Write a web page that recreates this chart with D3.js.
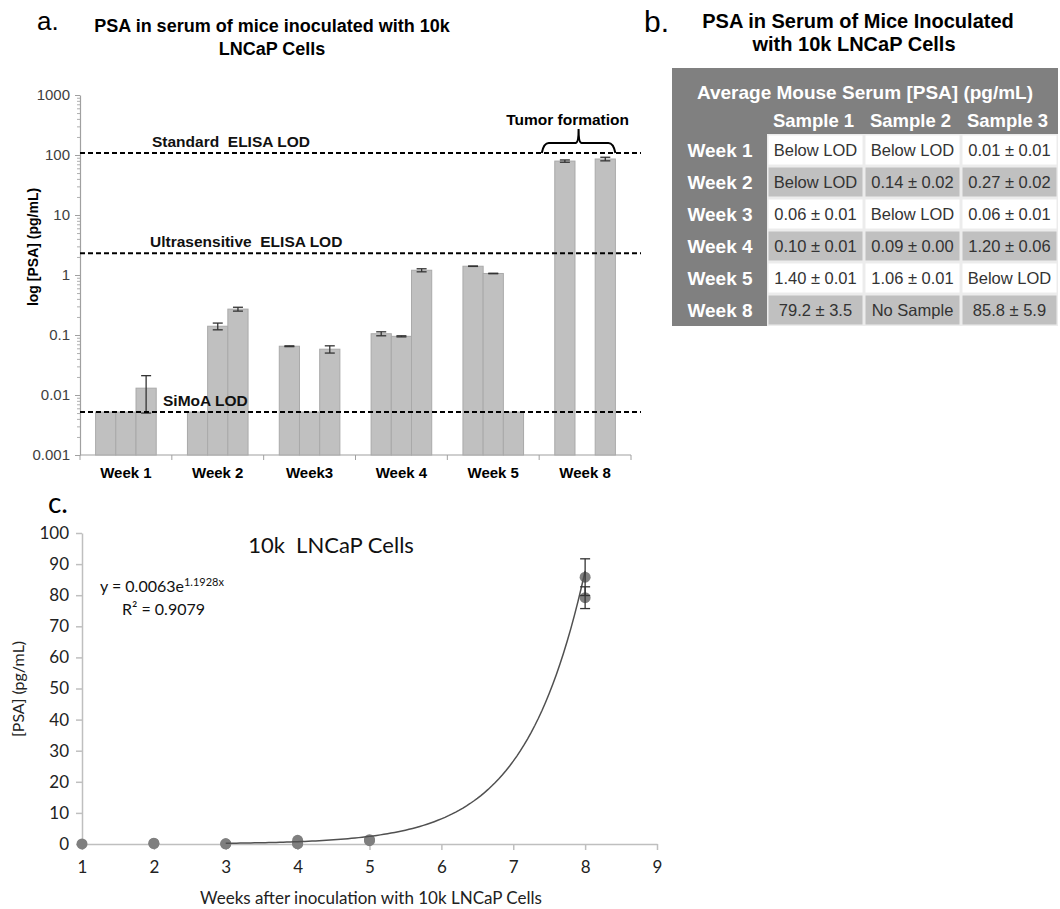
<!DOCTYPE html>
<html>
<head>
<meta charset="utf-8">
<script src="https://cdn.jsdelivr.net/npm/d3@7"></script>
<style>
  body { margin: 0; background: #fff; }
  svg { display: block; }
</style>
</head>
<body>
<svg id="chart"></svg>
<script>
// ---- panel a: bar heights as plotted (below-LOD samples sit at the SiMoA LOD) ----
const weeks = ['Week 1', 'Week 2', 'Week3', 'Week 4', 'Week 5', 'Week 8'];
const samples = ['Sample 1', 'Sample 2', 'Sample 3'];
const sample1 = [0.0052, 0.0052, 0.065, 0.105, 1.40, 79.2];
const sample2 = [0.0052, 0.14, 0.0052, 0.095, 1.06, null];
const sample3 = [0.013, 0.27, 0.058, 1.20, 0.0052, 85.8];
const sample1Err = [0, 0, 0.001, 0.008, 0.01, 3.5];
const sample2Err = [0, 0.018, 0, 0.002, 0.01, 0];
const sample3Err = [0.008, 0.02, 0.008, 0.07, 0, 5.9];
const lodNames = ['Standard  ELISA LOD', 'Ultrasensitive  ELISA LOD', 'SiMoA LOD'];
const lodValues = [108, 2.3, 0.0052];
const logTicks = [0.001, 0.01, 0.1, 1, 10, 100, 1000];

// ---- panel b: table ----
const tableWeeks = ['Week 1', 'Week 2', 'Week 3', 'Week 4', 'Week 5', 'Week 8'];
const tableS1 = ['Below LOD', 'Below LOD', '0.06 \u00b1 0.01', '0.10 \u00b1 0.01', '1.40 \u00b1 0.01', '79.2 \u00b1 3.5'];
const tableS2 = ['Below LOD', '0.14 \u00b1 0.02', 'Below LOD', '0.09 \u00b1 0.00', '1.06 \u00b1 0.01', 'No Sample'];
const tableS3 = ['0.01 \u00b1 0.01', '0.27 \u00b1 0.02', '0.06 \u00b1 0.01', '1.20 \u00b1 0.06', 'Below LOD', '85.8 \u00b1 5.9'];

// ---- panel c: scatter + exponential trendline ----
const scatterWeeks = [1, 2, 2, 3, 3, 4, 4, 4, 5, 5, 8, 8];
const scatterPSA = [0.01, 0.14, 0.27, 0.06, 0.06, 0.10, 0.09, 1.20, 1.40, 1.06, 79.2, 85.8];
const scatterErr = [0.01, 0.02, 0.02, 0.01, 0.01, 0.01, 0, 0.06, 0.01, 0.01, 3.5, 5.9];
const fitA = 0.0063, fitB = 1.1928;
const fitFrom = 3, fitTo = 8;
const xTicksC = [1, 2, 3, 4, 5, 6, 7, 8, 9];

const W = 1060, H = 909;
const svg = d3.select('#chart').attr('width', W).attr('height', H)
    .attr('font-family', '"Liberation Sans", Arial, sans-serif');

// =================== panel a ===================
const a = svg.append('g');
const yA = d3.scaleLog().domain([0.001, 1000]).range([455, 95]);
const xA = d3.scaleBand().domain(weeks).range([80, 631]).paddingInner(0.34).paddingOuter(0.17);
const xS = d3.scaleBand().domain(samples).range([0, xA.bandwidth()]);

a.append('text').attr('x', 37).attr('y', 30).attr('font-size', 26).text('a.');
a.append('text').attr('x', 272).attr('y', 32).attr('text-anchor', 'middle')
    .attr('font-size', 18).attr('font-weight', 'bold').text('PSA in serum of mice inoculated with 10k');
a.append('text').attr('x', 272).attr('y', 55).attr('text-anchor', 'middle')
    .attr('font-size', 18).attr('font-weight', 'bold').text('LNCaP Cells');

// y axis with minor ticks
const minor = yA.ticks().filter(t => !logTicks.some(m => Math.abs(m - t) / m < 1e-6));
a.append('g').attr('transform', 'translate(80,0)')
    .call(d3.axisLeft(yA).tickValues(minor).tickSize(3).tickFormat(''))
    .call(g => g.select('.domain').remove())
    .selectAll('line').attr('stroke', '#b0b0b0');
a.append('g').attr('transform', 'translate(80,0)')
    .call(d3.axisLeft(yA).tickValues(logTicks).tickSize(5).tickSizeOuter(0).tickFormat(d => String(d)))
    .call(g => {
        g.select('.domain').attr('stroke', '#a0a0a0').attr('stroke-width', 1.2);
        g.selectAll('line').attr('stroke', '#a0a0a0');
        g.selectAll('text').attr('font-size', 15).attr('fill', '#404040')
            .attr('font-family', '"Liberation Sans", Arial, sans-serif').attr('dx', -2);
    });

a.append('text').attr('transform', 'translate(38,247) rotate(-90)')
    .attr('text-anchor', 'middle').attr('font-size', 14).attr('font-weight', 'bold')
    .text('log [PSA] (pg/mL)');

// x axis
a.append('line').attr('x1', 80).attr('x2', 631).attr('y1', 455).attr('y2', 455)
    .attr('stroke', '#a0a0a0').attr('stroke-width', 1.2);
const bounds = weeks.map(w => xA(w) - xA.step() * xA.paddingInner() / 2)
    .concat([xA(weeks[weeks.length - 1]) + xA.bandwidth() + xA.step() * xA.paddingInner() / 2]);
a.selectAll('.xt').data(bounds).join('line')
    .attr('x1', d => d).attr('x2', d => d).attr('y1', 455).attr('y2', 460)
    .attr('stroke', '#a0a0a0');
a.selectAll('.xl').data(weeks).join('text')
    .attr('x', d => xA(d) + xA.bandwidth() / 2).attr('y', 478)
    .attr('text-anchor', 'middle').attr('font-size', 15).attr('font-weight', 'bold')
    .text(d => d);

// bars
const series = [sample1, sample2, sample3];
const errs = [sample1Err, sample2Err, sample3Err];
const barData = [];
weeks.forEach((w, i) => samples.forEach((s, j) => {
    if (series[j][i] != null) barData.push({ week: w, sample: s, v: series[j][i], e: errs[j][i] });
}));
a.selectAll('.bar').data(barData).join('rect')
    .attr('x', d => xA(d.week) + xS(d.sample))
    .attr('width', xS.bandwidth())
    .attr('y', d => yA(d.v))
    .attr('height', d => yA(0.001) - yA(d.v))
    .attr('fill', '#c0c0c0').attr('stroke', '#a9a9a9').attr('stroke-width', 1);

// error bars
const eb = a.selectAll('.eb').data(barData.filter(d => d.e > 0)).join('g')
    .attr('transform', d => `translate(${xA(d.week) + xS(d.sample) + xS.bandwidth() / 2},0)`)
    .attr('stroke', '#333').attr('stroke-width', 1.3);
eb.append('line').attr('y1', d => yA(d.v - d.e)).attr('y2', d => yA(d.v + d.e));
eb.append('line').attr('x1', -5).attr('x2', 5).attr('y1', d => yA(d.v + d.e)).attr('y2', d => yA(d.v + d.e));
eb.append('line').attr('x1', -5).attr('x2', 5).attr('y1', d => yA(d.v - d.e)).attr('y2', d => yA(d.v - d.e));

// LOD lines
const lodX = [152, 150, 163];
lodValues.forEach((v, i) => {
    a.append('line').attr('x1', 80).attr('x2', 641).attr('y1', yA(v)).attr('y2', yA(v))
        .attr('stroke', '#000').attr('stroke-width', 2).attr('stroke-dasharray', '5,3');
    a.append('text').attr('x', lodX[i]).attr('y', yA(v) - 6)
        .attr('font-size', 15.5).attr('font-weight', 'bold').attr('fill', '#111')
        .attr('xml:space', 'preserve').text(lodNames[i]);
});

// tumor formation brace
const bx0 = xA('Week 8') - 13, bx1 = xA('Week 8') + xA.bandwidth();
const bm = (bx0 + bx1) / 2, by = yA(lodValues[0]);
a.append('path')
    .attr('d', `M${bx0},${by} Q${bx0 + 2},${by - 10} ${bx0 + 7},${by - 10} L${bm - 3},${by - 10} Q${bm},${by - 10} ${bm},${by - 24} Q${bm},${by - 10} ${bm + 3},${by - 10} L${bx1 - 7},${by - 10} Q${bx1 - 2},${by - 10} ${bx1},${by}`)
    .attr('fill', 'none').attr('stroke', '#000').attr('stroke-width', 2);
a.append('text').attr('x', bm - 11).attr('y', 125).attr('text-anchor', 'middle')
    .attr('font-size', 15.5).attr('font-weight', 'bold').text('Tumor formation');

// =================== panel b ===================
const b = svg.append('g');
b.append('text').attr('x', 644).attr('y', 32).attr('font-size', 30).text('b.');
b.append('text').attr('x', 858).attr('y', 28).attr('text-anchor', 'middle')
    .attr('font-size', 20).attr('font-weight', 'bold').text('PSA in Serum of Mice Inoculated');
b.append('text').attr('x', 854).attr('y', 51).attr('text-anchor', 'middle')
    .attr('font-size', 20).attr('font-weight', 'bold').text('with 10k LNCaP Cells');

const tx0 = 672, tx1 = 1058, ty0 = 68, rowTop = 134, rowH = 32;
const colX = d3.scaleBand().domain(samples).range([767, tx1]);
const rowY = d3.scaleBand().domain(tableWeeks).range([rowTop, rowTop + rowH * tableWeeks.length]);
b.append('rect').attr('x', tx0).attr('y', ty0).attr('width', tx1 - tx0)
    .attr('height', rowY.range()[1] - ty0).attr('fill', '#808080');
b.append('text').attr('x', 865).attr('y', 99).attr('text-anchor', 'middle')
    .attr('font-size', 19).attr('font-weight', 'bold').attr('fill', '#fff')
    .text('Average Mouse Serum [PSA] (pg/mL)');
b.selectAll('.colh').data(samples).join('text')
    .attr('x', d => colX(d) + colX.bandwidth() / 2 - 2).attr('y', 127)
    .attr('text-anchor', 'middle').attr('font-size', 18.5).attr('font-weight', 'bold')
    .attr('fill', '#fff').text(d => d);

const cols = [tableS1, tableS2, tableS3];
tableWeeks.forEach((w, i) => {
    const fill = i % 2 === 0 ? '#ffffff' : '#c0c0c0';
    b.append('rect').attr('x', 767).attr('y', rowY(w)).attr('width', tx1 - 767)
        .attr('height', rowH).attr('fill', '#ececec');
    samples.forEach((s, j) => {
        b.append('rect').attr('x', colX(s) + 1.5).attr('y', rowY(w) + 1.5)
            .attr('width', colX.bandwidth() - 3).attr('height', rowH - 3).attr('fill', fill);
        b.append('text').attr('x', colX(s) + colX.bandwidth() / 2).attr('y', rowY(w) + rowH / 2 + 6)
            .attr('text-anchor', 'middle').attr('font-size', 16.5).attr('fill', '#333')
            .text(cols[j][i]);
    });
    b.append('text').attr('x', 720).attr('y', rowY(w) + rowH / 2 + 7)
        .attr('text-anchor', 'middle').attr('font-size', 19).attr('font-weight', 'bold')
        .attr('fill', '#fff').text(w);
});

// =================== panel c ===================
const c = svg.append('g').attr('font-family', 'Lato, "Open Sans", sans-serif');
const xC = d3.scaleLinear().domain([1, 9]).range([82, 657]);
const yC = d3.scaleLinear().domain([0, 100]).range([844, 533]);

c.append('text').attr('x', 48).attr('y', 513).attr('font-size', 28).text('c.');

c.append('g').attr('transform', 'translate(82,0)')
    .call(d3.axisLeft(yC).ticks(10).tickSize(6).tickSizeOuter(0))
    .call(g => {
        g.select('.domain').attr('stroke', '#bfbfbf').attr('stroke-width', 1.5);
        g.selectAll('line').attr('stroke', '#bfbfbf').attr('stroke-width', 1.5);
        g.selectAll('text').attr('font-size', 17).attr('fill', '#222')
            .attr('font-family', 'Lato, "Open Sans", sans-serif').attr('dx', -4);
    });
c.append('g').attr('transform', 'translate(0,844)')
    .call(d3.axisBottom(xC).tickValues(xTicksC).tickSize(6).tickSizeOuter(0).tickFormat(d3.format('d')))
    .call(g => {
        g.select('.domain').attr('stroke', '#bfbfbf').attr('stroke-width', 1.5);
        g.selectAll('line').attr('stroke', '#bfbfbf').attr('stroke-width', 1.5);
        g.selectAll('text').attr('font-size', 17).attr('fill', '#222')
            .attr('font-family', 'Lato, "Open Sans", sans-serif').attr('dy', '1.2em');
    });

c.append('text').attr('transform', 'translate(24,689) rotate(-90)')
    .attr('text-anchor', 'middle').attr('font-size', 16).attr('fill', '#222').text('[PSA] (pg/mL)');
c.append('text').attr('x', 371).attr('y', 904).attr('text-anchor', 'middle')
    .attr('font-size', 17).attr('fill', '#222').text('Weeks after inoculation with 10k LNCaP Cells');
c.append('text').attr('x', 331).attr('y', 553).attr('text-anchor', 'middle')
    .attr('font-size', 22).attr('fill', '#111').attr('xml:space', 'preserve').text('10k  LNCaP Cells');

const eq = c.append('text').attr('x', 100).attr('y', 592).attr('font-size', 16).attr('fill', '#111');
eq.append('tspan').text(`y = ${fitA}e`);
eq.append('tspan').attr('font-size', 11).attr('dy', -6).text(`${fitB}x`);
c.append('text').attr('x', 122).attr('y', 615).attr('font-size', 16).attr('fill', '#111')
    .text('R\u00b2 = 0.9079');

const pts = scatterWeeks.map((w, i) => ({ x: w, y: scatterPSA[i], e: scatterErr[i] }));
c.selectAll('.pt').data(pts).join('circle')
    .attr('cx', d => xC(d.x)).attr('cy', d => yC(d.y)).attr('r', 5.5)
    .attr('fill', '#7f7f7f');

const fitLine = d3.line().x(d => xC(d)).y(d => yC(fitA * Math.exp(fitB * d)));
c.append('path').datum(d3.range(fitFrom, fitTo + 0.001, 0.05))
    .attr('d', fitLine).attr('fill', 'none').attr('stroke', '#505050').attr('stroke-width', 1.5);

const ebc = c.selectAll('.ebc').data(pts.filter(d => d.e > 1)).join('g')
    .attr('transform', d => `translate(${xC(d.x)},0)`)
    .attr('stroke', '#333').attr('stroke-width', 1.3);
ebc.append('line').attr('y1', d => yC(d.y - d.e)).attr('y2', d => yC(d.y + d.e));
ebc.append('line').attr('x1', -5).attr('x2', 5).attr('y1', d => yC(d.y + d.e)).attr('y2', d => yC(d.y + d.e));
ebc.append('line').attr('x1', -5).attr('x2', 5).attr('y1', d => yC(d.y - d.e)).attr('y2', d => yC(d.y - d.e));
</script>
</body>
</html>
